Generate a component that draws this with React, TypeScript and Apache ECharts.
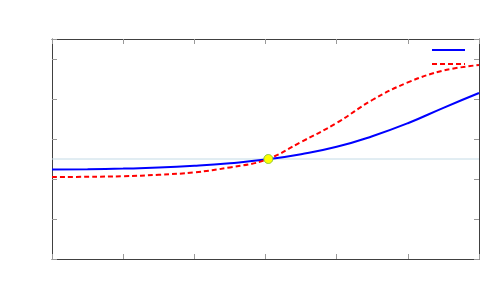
import React, { useEffect, useRef } from "react";
import * as echarts from "echarts";

const xValues = [0, 0.5, 1, 1.5, 2, 2.5, 3, 3.5, 4, 4.5, 5, 5.5, 6];
const blueValues = [0.4475, 0.449, 0.452, 0.457, 0.466, 0.479, 0.497, 0.524, 0.561, 0.614, 0.679, 0.756, 0.83];
const redValues = [0.41, 0.411, 0.414, 0.421, 0.433, 0.458, 0.495, 0.585, 0.68, 0.795, 0.883, 0.942, 0.97];
const refLineY = 0.5;
const markerPoint = [3.04, 0.5];

export default function App() {
  const ref = useRef<HTMLDivElement>(null);
  useEffect(() => {
    if (!ref.current) return;
    const chart = echarts.init(ref.current, undefined, { renderer: "svg" });
    const axisCommon = {
      type: "value" as const,
      axisLabel: { show: false },
      splitLine: { show: false },
      axisLine: { show: true, onZero: false, lineStyle: { color: "#404040", width: 1 } },
      axisTick: { show: true, inside: true, length: 5, lineStyle: { color: "#999", width: 1 } },
    };
    chart.setOption({
      animation: false,
      grid: { left: 44, top: 31, width: 427, height: 220 },
      xAxis: [
        { ...axisCommon, min: 0, max: 6, interval: 1, position: "bottom" },
        { ...axisCommon, min: 0, max: 6, interval: 1, position: "top" },
      ],
      yAxis: [
        { ...axisCommon, min: 0, max: 1.1, interval: 0.2, position: "left" },
        { ...axisCommon, min: 0, max: 1.1, interval: 0.2, position: "right" },
      ],
      series: [
        {
          type: "line",
          data: [[xValues[0], refLineY], [xValues[xValues.length - 1], refLineY]],
          showSymbol: false,
          lineStyle: { color: "#c4dbe6", width: 1 },
          silent: true,
        },
        {
          type: "line",
          data: xValues.map((x, i) => [x, blueValues[i]]),
          smooth: 0.5,
          showSymbol: false,
          lineStyle: { color: "#0000ff", width: 2 },
        },
        {
          type: "line",
          data: xValues.map((x, i) => [x, redValues[i]]),
          smooth: 0.4,
          showSymbol: false,
          lineStyle: { color: "#ff0000", width: 2, type: [5, 3] },
        },
        {
          type: "scatter",
          data: [markerPoint],
          symbolSize: 9,
          z: 5,
          itemStyle: { color: "#ffff00", opacity: 1, borderColor: "#8cc63f", borderWidth: 1 },
        },
      ],
      graphic: [
        { type: "line", shape: { x1: 424, y1: 42, x2: 457, y2: 42 }, style: { stroke: "#0000ff", lineWidth: 2 } },
        { type: "line", shape: { x1: 424, y1: 56, x2: 457, y2: 56 }, style: { stroke: "#ff0000", lineWidth: 2, lineDash: [5, 3] } },
      ],
    });
    return () => chart.dispose();
  }, []);
  return <div ref={ref} style={{ width: 500, height: 300 }} />;
}
